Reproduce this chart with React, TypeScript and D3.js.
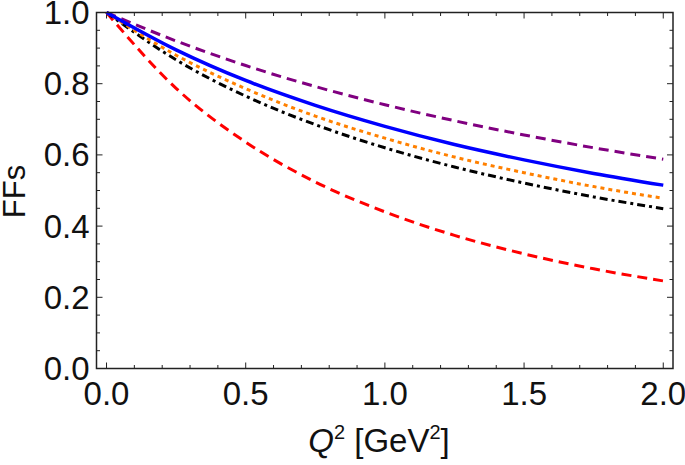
import React from "react";
import * as d3 from "d3";

const qValues = [0, 0.25, 0.5, 0.75, 1.0, 1.25, 1.5, 1.75, 2.0];
const purpleValues = [1, 0.92, 0.851, 0.792, 0.741, 0.696, 0.656, 0.62, 0.588];
const blueValues = [1, 0.895, 0.809, 0.739, 0.68, 0.629, 0.586, 0.548, 0.515];
const orangeValues = [1, 0.88, 0.786, 0.709, 0.647, 0.594, 0.55, 0.511, 0.478];
const blackValues = [1, 0.867, 0.765, 0.685, 0.62, 0.566, 0.521, 0.482, 0.449];
const redValues = [1, 0.787, 0.636, 0.524, 0.44, 0.374, 0.322, 0.28, 0.246];
const xTicks = [0, 0.5, 1.0, 1.5, 2.0];
const yTicks = [0, 0.2, 0.4, 0.6, 0.8, 1.0];

const W = 685;
const H = 465;
const left = 96.5;
const right = 673;
const top = 12.5;
const bottom = 368.5;

const series = [
  { values: purpleValues, color: "#800080", dash: "10,6", width: 3 },
  { values: redValues, color: "#ff0000", dash: "10,6", width: 3 },
  { values: blackValues, color: "#000000", dash: "8,4,3,4", width: 3 },
  { values: orangeValues, color: "#ff8000", dash: "4,4", width: 3 },
  { values: blueValues, color: "#0000ff", dash: "", width: 3.5 },
];

export default function App() {
  const x = d3.scaleLinear().domain([-0.036, 2.035]).range([left, right]);
  const y = d3.scaleLinear().domain([0, 1.0]).range([bottom, top]);
  const line = (vals: number[]) =>
    d3
      .line<number>()
      .x((_, i) => x(qValues[i]))
      .y((d) => y(d))
      .curve(d3.curveMonotoneX)(vals) || "";

  const xMinor = d3.range(0, 2.0001, 0.1);
  const yMinor = d3.range(0, 1.0001, 0.05);
  const isMajor = (v: number, step: number) => Math.abs(v / step - Math.round(v / step)) < 1e-6;
  const font = "'Liberation Sans', Arial, sans-serif";

  return (
    <svg width={W} height={H} style={{ position: "absolute", left: 0, top: 0 }}>
      <rect width={W} height={H} fill="#fff" />
      <defs>
        <clipPath id="plot">
          <rect x={left} y={top - 2} width={right - left} height={bottom - top + 2} />
        </clipPath>
      </defs>
      {xMinor.map((v, i) => {
        const len = isMajor(v, 0.5) ? 6 : 3.5;
        return (
          <g key={"xt" + i} stroke="#222" strokeWidth={1}>
            <line x1={x(v)} x2={x(v)} y1={bottom} y2={bottom - len} />
            <line x1={x(v)} x2={x(v)} y1={top} y2={top + len} />
          </g>
        );
      })}
      {yMinor.map((v, i) => {
        const len = isMajor(v, 0.2) ? 6 : 3.5;
        return (
          <g key={"yt" + i} stroke="#222" strokeWidth={1}>
            <line x1={left} x2={left + len} y1={y(v)} y2={y(v)} />
            <line x1={right} x2={right - len} y1={y(v)} y2={y(v)} />
          </g>
        );
      })}
      <g clipPath="url(#plot)">
        {series.map((s, i) => (
          <path
            key={i}
            d={line(s.values)}
            fill="none"
            stroke={s.color}
            strokeWidth={s.width}
            strokeDasharray={s.dash || undefined}
          />
        ))}
      </g>
      <rect x={left} y={top} width={right - left} height={bottom - top} fill="none" stroke="#222" strokeWidth={1.5} />
      {xTicks.map((v) => (
        <text key={"xl" + v} x={x(v)} y={405} textAnchor="middle" fontFamily={font} fontSize={33} fill="#111">
          {v.toFixed(1)}
        </text>
      ))}
      {yTicks.map((v) => (
        <text key={"yl" + v} x={89.5} y={y(v) + 11.5} textAnchor="end" fontFamily={font} fontSize={33} fill="#111">
          {v.toFixed(1)}
        </text>
      ))}
      <text x={379} y={452} textAnchor="middle" fontFamily={font} fontSize={33} fill="#111">
        <tspan fontStyle="italic">Q</tspan>
        <tspan fontSize={20} dy={-13}>2</tspan>
        <tspan dy={13}> [GeV</tspan>
        <tspan fontSize={20} dy={-13}>2</tspan>
        <tspan dy={13}>]</tspan>
      </text>
      <text
        transform={`translate(25,191.5) rotate(-90)`}
        textAnchor="middle"
        fontFamily={font}
        fontSize={31}
        fill="#111"
      >
        FFs
      </text>
    </svg>
  );
}
